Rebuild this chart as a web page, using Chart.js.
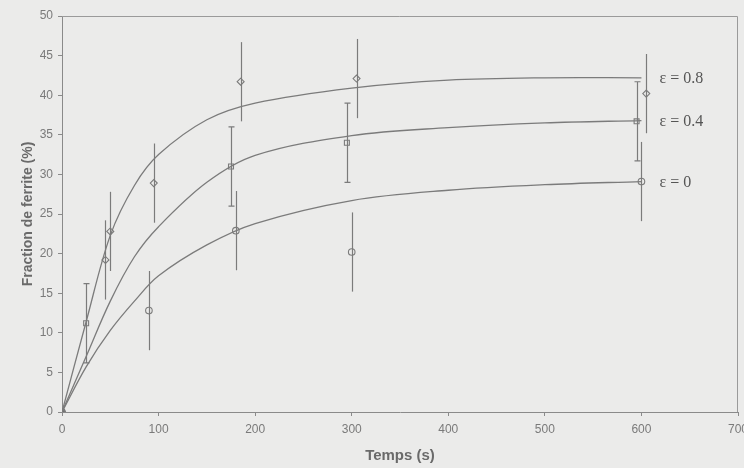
<!DOCTYPE html>
<html>
<head>
<meta charset="utf-8">
<script src="https://cdn.jsdelivr.net/npm/chart.js@4"></script>
<style>
  html, body { margin: 0; padding: 0; background: #ebebea; }
  #wrap { width: 744px; height: 468px; }
</style>
</head>
<body>
<div id="wrap"><canvas id="ferrite" width="744" height="468"></canvas></div>
<script>
// measured points (time in s, ferrite fraction in %, error half-length)
const times08 = [0, 45, 50, 95, 185, 305, 605];
const frac08 = [0, 19.2, 22.8, 28.9, 41.7, 42.1, 40.2];
const err08 = [0, 5, 5, 5, 5, 5, 5];

const times04 = [0, 25, 175, 295, 595];
const frac04 = [0, 11.2, 31.0, 34.0, 36.7];
const err04 = [0, 5, 5, 5, 5];

const times0 = [0, 90, 180, 300, 600];
const frac0 = [0, 12.8, 22.9, 20.2, 29.1];
const err0 = [0, 5, 5, 5, 5];

// fitted curves
const fitTimes = [0, 25, 50, 75, 100, 150, 200, 300, 400, 500, 600];
const fit08 = [0, 11.4, 22.3, 28.6, 32.5, 36.9, 39.0, 40.9, 41.9, 42.2, 42.2];
const fit04 = [0, 7.0, 14.0, 19.6, 23.4, 29.0, 32.4, 34.9, 35.9, 36.5, 36.8];
const fit0 = [0, 5.7, 10.3, 14.0, 17.2, 21.1, 23.8, 26.7, 28.0, 28.7, 29.1];

const curveLabels = ['\u03b5 = 0.8', '\u03b5 = 0.4', '\u03b5 = 0'];

const gray = '#7b7b7b';
const pts = (xs, ys) => xs.map((x, i) => ({ x: x, y: ys[i] }));
const firstFilled = n => Array.from({ length: n }, (_, i) => i === 0 ? '#6f6f6f' : 'rgba(0,0,0,0)');

const bgPlugin = {
    id: 'bg',
    beforeDraw(chart) {
        const ctx = chart.ctx;
        ctx.save();
        ctx.fillStyle = '#ebebea';
        ctx.fillRect(0, 0, chart.width, chart.height);
        ctx.restore();
    }
};

const framePlugin = {
    id: 'frame',
    afterDraw(chart) {
        const { ctx, chartArea: a } = chart;
        ctx.save();
        ctx.strokeStyle = '#9a9a9a';
        ctx.lineWidth = 1;
        ctx.beginPath();
        ctx.moveTo(a.left, a.top + 0.5);
        ctx.lineTo(a.right - 0.5, a.top + 0.5);
        ctx.lineTo(a.right - 0.5, a.bottom);
        ctx.stroke();
        ctx.restore();
    }
};

const errorBarPlugin = {
    id: 'errorBars',
    beforeDatasetsDraw(chart) {
        const { ctx, scales: { x, y } } = chart;
        const sets = [[times08, frac08, err08, 0], [times04, frac04, err04, 3], [times0, frac0, err0, 0]];
        ctx.save();
        ctx.strokeStyle = gray;
        ctx.lineWidth = 1.2;
        sets.forEach(([ts, vs, es, cap]) => {
            ts.forEach((t, i) => {
                if (!es[i]) return;
                const px = Math.round(x.getPixelForValue(t)) + 0.5;
                const top = y.getPixelForValue(vs[i] + es[i]);
                const bot = y.getPixelForValue(vs[i] - es[i]);
                ctx.beginPath();
                ctx.moveTo(px, top);
                ctx.lineTo(px, bot);
                if (cap) {
                    ctx.moveTo(px - cap, top);
                    ctx.lineTo(px + cap, top);
                    ctx.moveTo(px - cap, bot);
                    ctx.lineTo(px + cap, bot);
                }
                ctx.stroke();
            });
        });
        ctx.restore();
    }
};

const labelPlugin = {
    id: 'curveLabels',
    afterDatasetsDraw(chart) {
        const { ctx, scales: { x, y } } = chart;
        const ends = [fit08, fit04, fit0];
        ctx.save();
        ctx.font = '16px "Liberation Serif", "DejaVu Serif", serif';
        ctx.fillStyle = '#555';
        ctx.textBaseline = 'middle';
        ctx.textAlign = 'left';
        ends.forEach((f, i) => {
            const last = fitTimes.length - 1;
            ctx.fillText(curveLabels[i], x.getPixelForValue(fitTimes[last]) + 18, y.getPixelForValue(f[last]) + 1);
        });
        ctx.restore();
    }
};

const curve = data => ({ data: data, borderColor: gray, borderWidth: 1.3, pointRadius: 0, tension: 0.35, fill: false });

const ctx = document.getElementById('ferrite').getContext('2d');
new Chart(ctx, {
    type: 'line',
    data: {
        datasets: [
            curve(pts(fitTimes, fit08)),
            curve(pts(fitTimes, fit04)),
            curve(pts(fitTimes, fit0)),
            { data: pts(times08, frac08), showLine: false, pointStyle: 'rectRot', pointRadius: 3.5, pointBorderWidth: 1.1,
              pointBorderColor: gray, pointBackgroundColor: firstFilled(times08.length) },
            { data: pts(times04, frac04), showLine: false, pointStyle: 'rect', pointRadius: 3.5, pointBorderWidth: 1.1,
              pointBorderColor: gray, pointBackgroundColor: firstFilled(times04.length) },
            { data: pts(times0, frac0), showLine: false, pointStyle: 'circle', pointRadius: 3.3, pointBorderWidth: 1.1,
              pointBorderColor: gray, pointBackgroundColor: firstFilled(times0.length) }
        ]
    },
    options: {
        responsive: false,
        animation: false,
        layout: { padding: { left: 0, top: 16, right: 6, bottom: 0 } },
        plugins: { legend: { display: false }, tooltip: { enabled: false } },
        scales: {
            x: {
                type: 'linear', min: 0, max: 700,
                afterFit: s => { s.height = 56; s.paddingLeft = 0; s.paddingRight = 0; },
                grid: { drawOnChartArea: false, tickLength: 4, color: '#8a8a8a' },
                border: { color: '#8a8a8a' },
                ticks: { stepSize: 100, padding: 6, color: '#7a7a7a', font: { family: 'Liberation Sans, Arial', size: 12 } },
                title: { display: true, text: 'Temps (s)', color: '#6a6a6a', padding: { top: 0, bottom: 3 },
                         font: { family: 'Liberation Sans, Arial', size: 15, weight: 'bold' } }
            },
            y: {
                type: 'linear', min: 0, max: 50,
                afterFit: s => { s.width = 62; s.paddingTop = 0; s.paddingBottom = 0; },
                grid: { drawOnChartArea: false, tickLength: 4, color: '#8a8a8a' },
                border: { color: '#8a8a8a' },
                ticks: { stepSize: 5, padding: 5, color: '#7a7a7a', font: { family: 'Liberation Sans, Arial', size: 12 } },
                title: { display: true, text: 'Fraction de ferrite (%)', color: '#6a6a6a', padding: { top: 20, bottom: 0 },
                         font: { family: 'Liberation Sans, Arial', size: 14, weight: 'bold' } }
            }
        }
    },
    plugins: [bgPlugin, errorBarPlugin, labelPlugin, framePlugin]
});
</script>
</body>
</html>
